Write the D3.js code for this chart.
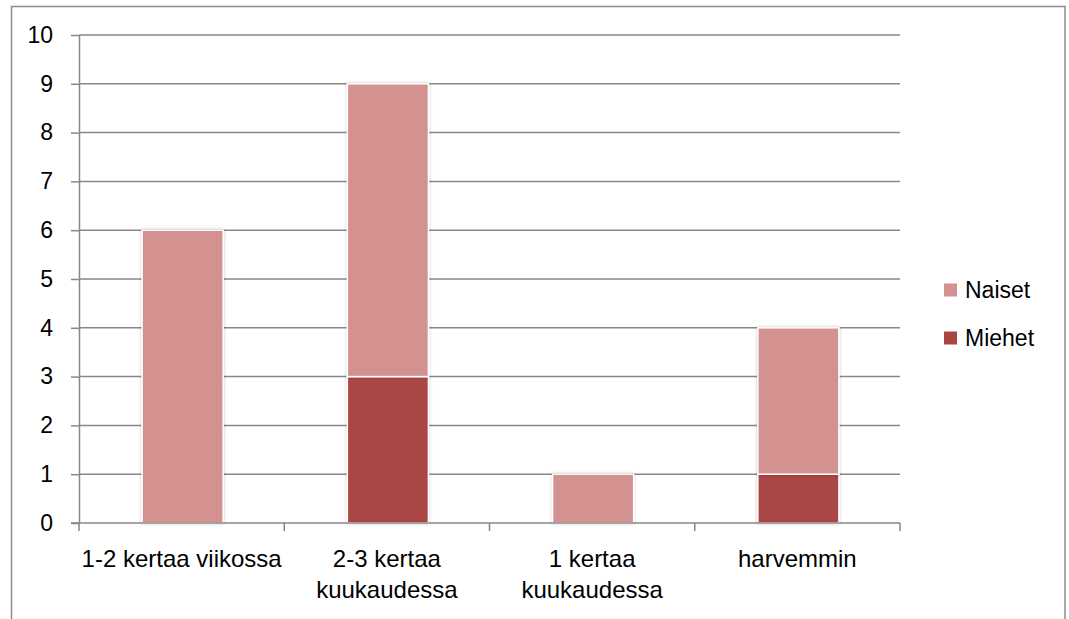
<!DOCTYPE html>
<html>
<head>
<meta charset="utf-8">
<script src="https://cdn.jsdelivr.net/npm/d3@7"></script>
<style>
  body { margin: 0; background: #fff; }
  svg text { font-family: "Liberation Sans", Arial, sans-serif; fill: #000; }
</style>
</head>
<body>
<div id="chart"></div>
<script>
'use strict';

// data
const categories = ['1-2 kertaa viikossa', '2-3 kertaa kuukaudessa', '1 kertaa kuukaudessa', 'harvemmin'];
const categoryLines = [['1-2 kertaa viikossa'], ['2-3 kertaa', 'kuukaudessa'], ['1 kertaa', 'kuukaudessa'], ['harvemmin']];
const miehet = [0, 3, 0, 1];
const naiset = [6, 6, 1, 3];
const seriesNames = ['Miehet', 'Naiset'];
const yTicks = [0, 1, 2, 3, 4, 5, 6, 7, 8, 9, 10];

const colors = { Miehet: '#a94644', Naiset: '#d39190' };

let width = 1069;
let height = 619;
let plotLeft = 79, plotRight = 900, plotTop = 35, plotBottom = 523;

let svg = d3.select('#chart').append('svg')
    .attr('width', width)
    .attr('height', height);

// outer chart frame
svg.append('rect')
    .attr('x', 11.5)
    .attr('y', 6.5)
    .attr('width', 1053.5)
    .attr('height', 650)
    .attr('fill', 'none')
    .attr('stroke', '#8c8c8c')
    .attr('stroke-width', 1.5);

let xScale = d3.scaleBand()
    .domain(categories)
    .range([plotLeft, plotRight]);

let yScale = d3.scaleLinear()
    .domain([0, 10])
    .range([plotBottom, plotTop]);

// gridlines
svg.append('g')
    .selectAll('line')
    .data(yTicks.filter(d => d > 0))
    .enter()
    .append('line')
    .attr('x1', plotLeft)
    .attr('x2', plotRight)
    .attr('y1', d => yScale(d))
    .attr('y2', d => yScale(d))
    .attr('stroke', '#878787')
    .attr('stroke-width', 1.5);

// stacked bars
let rows = categories.map((c, i) => ({ cat: c, Miehet: miehet[i], Naiset: naiset[i] }));
let stack = d3.stack().keys(seriesNames)(rows);
let barWidth = xScale.bandwidth() * 0.395;

let shadow = svg.append('defs').append('filter')
    .attr('id', 'shadow')
    .attr('x', '-20%').attr('y', '-20%')
    .attr('width', '140%').attr('height', '140%');
shadow.append('feDropShadow')
    .attr('dx', 0).attr('dy', 0)
    .attr('stdDeviation', 1.5)
    .attr('flood-color', '#000')
    .attr('flood-opacity', 0.25);

svg.append('g')
    .selectAll('g')
    .data(stack)
    .enter()
    .append('g')
    .attr('fill', d => colors[d.key])
    .selectAll('rect')
    .data(d => d.filter(p => p[1] - p[0] > 0))
    .enter()
    .append('rect')
    .attr('x', d => xScale(d.data.cat) + (xScale.bandwidth() - barWidth) / 2 + 1)
    .attr('width', barWidth)
    .attr('y', d => yScale(d[1]))
    .attr('height', d => yScale(d[0]) - yScale(d[1]))
    .attr('stroke', '#fff')
    .attr('stroke-width', 1.5)
    .attr('filter', 'url(#shadow)');

// y axis
let yAxis = d3.axisLeft(yScale)
    .tickValues(yTicks)
    .tickSize(8)
    .tickPadding(18)
    .tickSizeOuter(0);

let yg = svg.append('g')
    .attr('transform', `translate(${plotLeft},0)`)
    .call(yAxis);
yg.select('.domain').attr('stroke', '#878787').attr('stroke-width', 1.5);
yg.selectAll('.tick line').attr('stroke', '#878787').attr('stroke-width', 1.5);
yg.selectAll('.tick text').attr('font-size', 23).attr('fill', '#000')
    .attr('font-family', '"Liberation Sans", Arial, sans-serif');

// x axis: line plus ticks between categories
let xg = svg.append('g');
xg.append('line')
    .attr('x1', plotLeft - 8)
    .attr('x2', plotRight)
    .attr('y1', plotBottom)
    .attr('y2', plotBottom)
    .attr('stroke', '#878787')
    .attr('stroke-width', 1.5);

let boundaries = categories.map(c => xScale(c)).concat([xScale.range()[1]]);
xg.selectAll('line.tick')
    .data(boundaries)
    .enter()
    .append('line')
    .attr('class', 'tick')
    .attr('x1', d => d)
    .attr('x2', d => d)
    .attr('y1', plotBottom)
    .attr('y2', plotBottom + 8)
    .attr('stroke', '#878787')
    .attr('stroke-width', 1.5);

let labels = xg.selectAll('text')
    .data(categories)
    .enter()
    .append('text')
    .attr('text-anchor', 'middle')
    .attr('font-size', 24)
    .attr('x', d => xScale(d) + xScale.bandwidth() / 2)
    .attr('y', 567);

labels.selectAll('tspan')
    .data((d, i) => categoryLines[i])
    .enter()
    .append('tspan')
    .attr('x', function () { return d3.select(this.parentNode).attr('x'); })
    .attr('dy', (d, i) => i === 0 ? 0 : 31)
    .text(d => d);

// legend
let legendItems = ['Naiset', 'Miehet'];
let legend = svg.append('g')
    .selectAll('g')
    .data(legendItems)
    .enter()
    .append('g')
    .attr('transform', (d, i) => `translate(944, ${290 + i * 48})`);

legend.append('rect')
    .attr('x', 0)
    .attr('y', -6.5)
    .attr('width', 13)
    .attr('height', 13)
    .attr('fill', d => colors[d]);

legend.append('text')
    .attr('x', 21)
    .attr('y', 8)
    .attr('font-size', 23)
    .text(d => d);
</script>
</body>
</html>
